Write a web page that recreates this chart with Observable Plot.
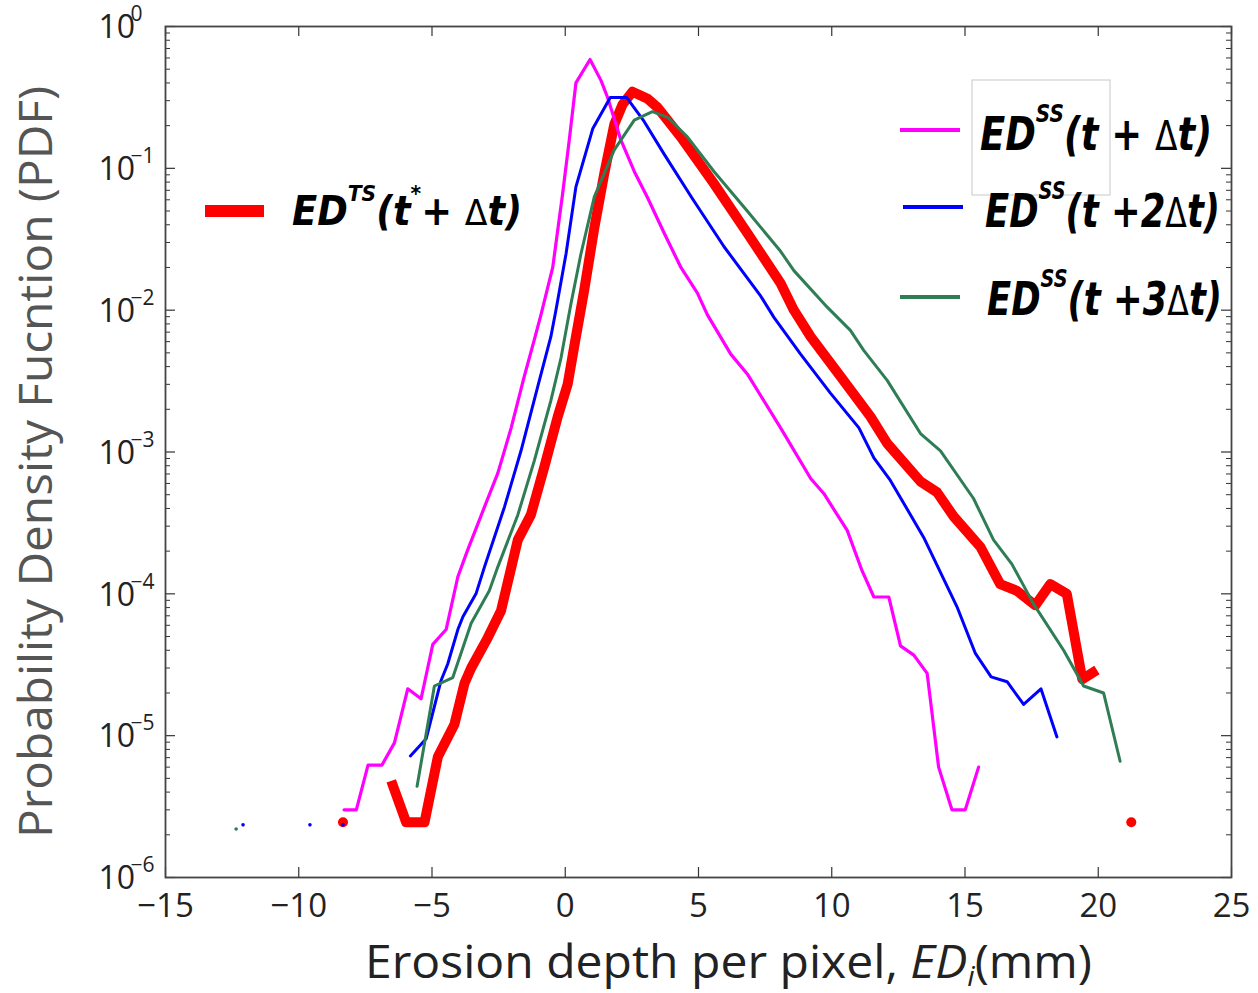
<!DOCTYPE html>
<html>
<head>
<meta charset="utf-8">
<script src="https://cdn.jsdelivr.net/npm/d3@7"></script>
<script src="https://cdn.jsdelivr.net/npm/@observablehq/plot@0.6"></script>
<style>
  html, body { margin: 0; padding: 0; background: #fff; }
</style>
</head>
<body>
<script>
// ---------- axis ticks ----------
const xTicks = [-15, -10, -5, 0, 5, 10, 15, 20, 25];
const xTickLabels = ["−15", "−10", "−5", "0", "5", "10", "15", "20", "25"];
const yTicks = [1, 1e-1, 1e-2, 1e-3, 1e-4, 1e-5, 1e-6];
const yTickExponents = ["0", "−1", "−2", "−3", "−4", "−5", "−6"];

// ---------- series: ED^TS(t* + Δt) (red, thick) ----------
const redX = [-6.53, -5.97, -5.28, -4.78, -4.16, -3.78, -3.53, -2.91, -2.41, -1.78, -1.29, -0.79, -0.28, 0.09, 0.34, 0.71, 1.09, 1.46, 1.84, 2.15, 2.52, 3.09, 3.46, 4.34, 5.58, 6.83, 8.08, 8.58, 9.21, 10.33, 11.45, 12.08, 13.33, 13.95, 14.58, 15.58, 16.32, 16.95, 17.64, 18.20, 18.82, 19.40, 19.95];
const redY = [4.8e-6, 2.45e-6, 2.45e-6, 7.1e-6, 1.2e-5, 2.34e-5, 3.0e-5, 4.9e-5, 7.6e-5, 2.4e-4, 3.6e-4, 7.8e-4, 1.78e-3, 3.0e-3, 5.6e-3, 0.0138, 0.038, 0.091, 0.204, 0.282, 0.347, 0.309, 0.269, 0.166, 0.078, 0.035, 0.0155, 0.010, 0.0065, 0.0034, 0.00178, 0.00115, 6.2e-4, 5.2e-4, 3.5e-4, 2.14e-4, 1.17e-4, 1.05e-4, 8.3e-5, 1.17e-4, 1.0e-4, 2.5e-5, 2.9e-5];
const redDotX = [-8.34, 21.24];
const redDotY = [2.45e-6, 2.45e-6];

// ---------- series: ED^SS(t + Δt) (magenta) ----------
const magX = [-8.30, -7.84, -7.40, -6.88, -6.41, -5.91, -5.41, -4.97, -4.47, -4.03, -3.66, -3.03, -2.53, -2.03, -1.54, -1.16, -0.91, -0.47, -0.10, 0.15, 0.40, 0.93, 1.34, 1.59, 2.09, 2.59, 3.09, 3.71, 4.34, 4.96, 5.33, 6.21, 6.83, 8.08, 9.21, 9.70, 10.58, 11.14, 11.58, 12.14, 12.58, 13.08, 13.58, 14.01, 14.51, 15.01, 15.51];
const magY = [3.0e-6, 3.0e-6, 6.2e-6, 6.2e-6, 8.9e-6, 2.14e-5, 1.82e-5, 4.4e-5, 5.6e-5, 1.32e-4, 2.04e-4, 4.1e-4, 7.1e-4, 1.48e-3, 3.4e-3, 6.2e-3, 9.3e-3, 0.020, 0.066, 0.158, 0.40, 0.585, 0.417, 0.316, 0.158, 0.095, 0.062, 0.035, 0.020, 0.0132, 0.0093, 0.0049, 0.00355, 0.00148, 6.5e-4, 5.1e-4, 2.8e-4, 1.45e-4, 9.5e-5, 9.5e-5, 4.3e-5, 3.7e-5, 2.75e-5, 6.0e-6, 3.0e-6, 3.0e-6, 6.0e-6];

// ---------- series: ED^SS(t + 2Δt) (blue) ----------
const blueX = [-5.81, -5.22, -4.66, -4.41, -4.03, -3.84, -3.35, -3.03, -2.28, -1.66, -1.03, -0.54, -0.35, 0.03, 0.40, 1.03, 1.69, 2.30, 2.96, 3.71, 4.75, 5.96, 7.33, 7.83, 8.83, 9.95, 11.02, 11.58, 12.20, 13.45, 14.70, 15.39, 15.98, 16.58, 17.20, 17.85, 18.45];
const blueY = [7.2e-6, 9.5e-6, 2.45e-5, 3.2e-5, 5.6e-5, 6.9e-5, 1.0e-4, 1.55e-4, 4.1e-4, 1.02e-3, 2.9e-3, 6.5e-3, 0.010, 0.025, 0.074, 0.19, 0.316, 0.316, 0.214, 0.126, 0.062, 0.028, 0.0126, 0.0089, 0.0049, 0.0026, 0.00148, 9.1e-4, 6.3e-4, 2.5e-4, 8.1e-5, 3.8e-5, 2.6e-5, 2.4e-5, 1.66e-5, 2.14e-5, 9.8e-6];
const blueDotX = [-12.09, -9.58, -8.34];
const blueDotY = [2.35e-6, 2.35e-6, 2.35e-6];

// ---------- series: ED^SS(t + 3Δt) (green) ----------
const greenX = [-5.56, -4.91, -4.22, -3.53, -2.85, -2.53, -1.78, -1.16, -0.54, -0.16, 0.21, 0.59, 1.09, 1.84, 2.59, 3.27, 3.84, 4.59, 5.58, 6.83, 8.08, 8.58, 9.83, 10.70, 11.20, 12.08, 13.33, 14.08, 15.32, 16.07, 16.76, 17.57, 18.70, 19.45, 20.20, 20.82];
const greenY = [4.4e-6, 2.24e-5, 2.57e-5, 6.2e-5, 1.05e-4, 1.55e-4, 3.6e-4, 8.7e-4, 2.3e-3, 4.6e-3, 0.011, 0.025, 0.063, 0.135, 0.219, 0.251, 0.229, 0.166, 0.095, 0.050, 0.026, 0.019, 0.0105, 0.0072, 0.0052, 0.0032, 1.35e-3, 1.02e-3, 4.7e-4, 2.4e-4, 1.62e-4, 8.5e-5, 4.0e-5, 2.24e-5, 2.0e-5, 6.6e-6];
const greenDotX = [-12.35];
const greenDotY = [2.2e-6];

// ---------- colours ----------
const cRed = "#ff0000", cMag = "#ff00ff", cBlue = "#0000ff", cGreen = "#2f7d55";

const pts = (xs, ys) => xs.map((x, i) => ({x, y: ys[i]}));
const red = pts(redX, redY), mag = pts(magX, magY), blue = pts(blueX, blueY), green = pts(greenX, greenY);

const yMinor = [];
for (let e = -6; e < 0; e++) for (let m = 2; m <= 9; m++) yMinor.push(m * Math.pow(10, e));

const W = 1258, H = 993, ML = 165, MR = 27, MT = 26, MB = 116;
const PW = W - ML - MR, PH = H - MT - MB;
const tickFont = "'Open Sans', 'Noto Sans', sans-serif";
const axisCol = "#333";

const chart = Plot.plot({
  width: W, height: H,
  marginLeft: ML, marginRight: MR, marginTop: MT, marginBottom: MB,
  style: {background: "#fff", fontFamily: tickFont, overflow: "visible"},
  x: {domain: [-15, 25], axis: null},
  y: {type: "log", domain: [1e-6, 1], axis: null},
  marks: [
    // data
    Plot.line(red, {x: "x", y: "y", stroke: cRed, strokeWidth: 10, strokeLinejoin: "round", strokeLinecap: "butt"}),
    Plot.dot(pts(redDotX, redDotY), {x: "x", y: "y", r: 5, fill: cRed}),
    Plot.line(mag, {x: "x", y: "y", stroke: cMag, strokeWidth: 3.2}),
    Plot.line(blue, {x: "x", y: "y", stroke: cBlue, strokeWidth: 3}),
    Plot.dot(pts(blueDotX, blueDotY), {x: "x", y: "y", r: 1.8, fill: cBlue}),
    Plot.line(green, {x: "x", y: "y", stroke: cGreen, strokeWidth: 3}),
    Plot.dot(pts(greenDotX, greenDotY), {x: "x", y: "y", r: 1.8, fill: cGreen}),
    // box + ticks
    Plot.ruleX(xTicks, {x: d => d, insetTop: PH - 10, stroke: axisCol, strokeWidth: 1.2}),
    Plot.ruleX(xTicks, {x: d => d, insetBottom: PH - 10, stroke: axisCol, strokeWidth: 1.2}),
    Plot.ruleY(yTicks, {y: d => d, insetRight: PW - 10, stroke: axisCol, strokeWidth: 1.2}),
    Plot.ruleY(yTicks, {y: d => d, insetLeft: PW - 10, stroke: axisCol, strokeWidth: 1.2}),
    Plot.ruleY(yMinor, {y: d => d, insetRight: PW - 5, stroke: axisCol, strokeWidth: 1}),
    Plot.ruleY(yMinor, {y: d => d, insetLeft: PW - 5, stroke: axisCol, strokeWidth: 1}),
    Plot.frame({stroke: "#444", strokeWidth: 1.8}),
    // tick labels
    Plot.text(xTicks, {x: d => d, text: (d, i) => xTickLabels[i], frameAnchor: "bottom", lineAnchor: "middle", dy: 29, fontSize: 33, fill: "#222"}),
    Plot.text(yTicks, {y: d => d, text: () => "10", frameAnchor: "left", lineAnchor: "middle", dx: -67, dy: 1.5, textAnchor: "start", fontSize: 32, fill: "#222"}),
    Plot.text(yTicks, {y: d => d, text: (d, i) => yTickExponents[i], frameAnchor: "left", lineAnchor: "middle", dx: -35, dy: -12, textAnchor: "start", fontSize: 21, fill: "#222"})
  ]
});

document.body.appendChild(chart);

// ---------- axis titles & legend (text) ----------
const svg = d3.select(chart);
const labelFont = "'Open Sans', 'Noto Sans', sans-serif";

// y label
svg.append("text")
  .attr("transform", "translate(52,462) rotate(-90)")
  .attr("text-anchor", "middle")
  .attr("font-family", labelFont)
  .attr("font-size", 46)
  .attr("fill", "#555")
  .attr("textLength", 752)
  .attr("lengthAdjust", "spacingAndGlyphs")
  .text("Probability Density Fucntion (PDF)");

// x label
const xl = svg.append("text")
  .attr("x", 365).attr("y", 978)
  .attr("text-anchor", "start")
  .attr("font-family", labelFont)
  .attr("font-size", 46)
  .attr("fill", "#222")
  .attr("textLength", 727)
  .attr("lengthAdjust", "spacingAndGlyphs");
xl.append("tspan").text("Erosion depth per pixel, ");
xl.append("tspan").attr("font-style", "italic").text("ED");
xl.append("tspan").attr("font-style", "italic").attr("font-size", 28).attr("dy", 8).text("i");
xl.append("tspan").attr("dy", -8).text("(mm)");

// legend
const legFont = "'Liberation Sans Narrow', 'DejaVu Sans Condensed', 'Roboto Condensed', 'Liberation Sans', sans-serif";
// faint legend-box remnant
svg.append("rect").attr("x", 972).attr("y", 80).attr("width", 138).attr("height", 115)
  .attr("fill", "none").attr("stroke", "#c8c8c8").attr("stroke-width", 1);

function legendEntry(x1, x2, y, color, sw, tx, ty, size, len, sup, parts) {
  svg.append("line").attr("x1", x1).attr("x2", x2).attr("y1", y).attr("y2", y)
    .attr("stroke", color).attr("stroke-width", sw);
  const t = svg.append("text").attr("x", tx).attr("y", ty)
    .attr("text-anchor", "start")
    .attr("font-family", legFont).attr("font-weight", "bold").attr("font-style", "italic")
    .attr("font-stretch", "condensed")
    .attr("font-size", size).attr("fill", "#000")
    .attr("textLength", len).attr("lengthAdjust", "spacingAndGlyphs");
  t.append("tspan").text("ED");
  const supShift = Math.round(size * 0.6);
  const supSize = Math.round(size * 0.55);
  t.append("tspan").attr("font-size", supSize).attr("dy", -supShift).text(sup);
  let pending = supShift;
  for (const p of parts) {
    const s = t.append("tspan");
    let dy = pending;
    pending = 0;
    if (p.sup) {
      dy -= supShift;
      pending = supShift;
      s.attr("font-size", supSize);
    }
    if (dy !== 0) s.attr("dy", dy);
    if (p.delta) s.attr("font-weight", "normal").attr("font-style", "normal").attr("font-family", "'DejaVu Sans', sans-serif").attr("font-size", Math.round(size * 0.9));
    s.text(p.text);
  }
}

legendEntry(205, 264, 211, cRed, 12, 292, 225, 40, 230, "TS",
  [{text: "(t"}, {text: "*", sup: true}, {text: "+ "}, {text: "Δ", delta: true}, {text: "t)"}]);
legendEntry(900, 960, 130, cMag, 4, 980, 150, 46, 232, "SS",
  [{text: "(t + "}, {text: "Δ", delta: true}, {text: "t)"}]);
legendEntry(903, 963, 207, cBlue, 4, 985, 227, 46, 235, "SS",
  [{text: "(t +2"}, {text: "Δ", delta: true}, {text: "t)"}]);
legendEntry(900, 960, 297, cGreen, 4, 987, 315, 46, 235, "SS",
  [{text: "(t +3"}, {text: "Δ", delta: true}, {text: "t)"}]);
</script>
</body>
</html>
